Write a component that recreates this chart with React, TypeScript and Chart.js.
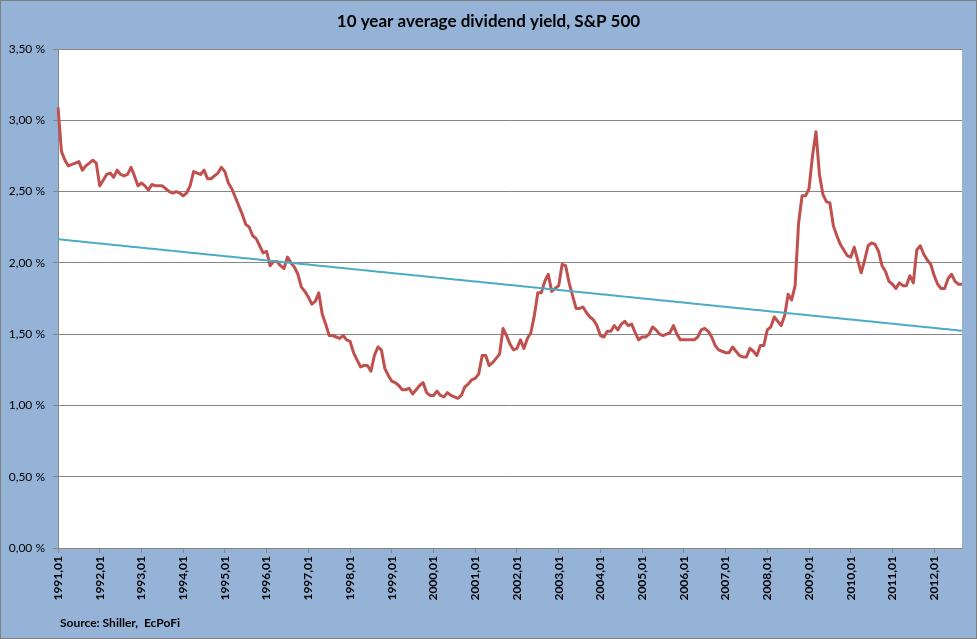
import { useEffect, useRef } from "react";
import { Chart, registerables } from "chart.js";

Chart.register(...registerables);

const START_YEAR = 1991;

// 10 year average dividend yield, S&P 500 (%), monthly
const y1991 = [3.09, 2.78, 2.72, 2.68, 2.69, 2.7, 2.71, 2.65, 2.68, 2.7, 2.72, 2.7];
const y1992 = [2.54, 2.58, 2.62, 2.63, 2.6, 2.65, 2.62, 2.61, 2.62, 2.67, 2.61, 2.54];
const y1993 = [2.56, 2.54, 2.51, 2.55, 2.54, 2.54, 2.54, 2.52, 2.5, 2.49, 2.5, 2.49];
const y1994 = [2.47, 2.49, 2.54, 2.64, 2.63, 2.62, 2.65, 2.59, 2.59, 2.61, 2.63, 2.67];
const y1995 = [2.64, 2.56, 2.52, 2.46, 2.4, 2.34, 2.27, 2.25, 2.19, 2.17, 2.12, 2.07];
const y1996 = [2.08, 1.98, 2.01, 2.01, 1.98, 1.96, 2.04, 2.0, 1.97, 1.92, 1.83, 1.8];
const y1997 = [1.76, 1.71, 1.73, 1.79, 1.64, 1.57, 1.49, 1.49, 1.48, 1.47, 1.49, 1.46];
const y1998 = [1.45, 1.37, 1.32, 1.27, 1.28, 1.28, 1.24, 1.35, 1.41, 1.39, 1.26, 1.21];
const y1999 = [1.17, 1.16, 1.14, 1.11, 1.11, 1.12, 1.08, 1.11, 1.14, 1.16, 1.09, 1.07];
const y2000 = [1.07, 1.1, 1.07, 1.06, 1.09, 1.07, 1.06, 1.05, 1.07, 1.13, 1.15, 1.18];
const y2001 = [1.19, 1.22, 1.35, 1.35, 1.28, 1.3, 1.33, 1.36, 1.54, 1.49, 1.43, 1.39];
const y2002 = [1.4, 1.46, 1.4, 1.47, 1.51, 1.63, 1.79, 1.79, 1.87, 1.92, 1.8, 1.82];
const y2003 = [1.84, 1.99, 1.98, 1.86, 1.77, 1.68, 1.68, 1.69, 1.65, 1.62, 1.6, 1.56];
const y2004 = [1.49, 1.48, 1.52, 1.52, 1.56, 1.53, 1.57, 1.59, 1.56, 1.57, 1.51, 1.46];
const y2005 = [1.48, 1.48, 1.5, 1.55, 1.53, 1.5, 1.49, 1.5, 1.51, 1.56, 1.5, 1.46];
const y2006 = [1.46, 1.46, 1.46, 1.46, 1.48, 1.53, 1.54, 1.52, 1.48, 1.42, 1.39, 1.38];
const y2007 = [1.37, 1.37, 1.41, 1.38, 1.35, 1.34, 1.34, 1.4, 1.38, 1.35, 1.42, 1.42];
const y2008 = [1.53, 1.55, 1.62, 1.59, 1.56, 1.63, 1.78, 1.74, 1.84, 2.28, 2.47, 2.47];
const y2009 = [2.52, 2.75, 2.92, 2.62, 2.48, 2.43, 2.42, 2.26, 2.19, 2.13, 2.09, 2.05];
const y2010 = [2.04, 2.11, 2.02, 1.93, 2.02, 2.12, 2.14, 2.13, 2.08, 1.98, 1.94, 1.87];
const y2011 = [1.85, 1.82, 1.86, 1.84, 1.84, 1.91, 1.86, 2.09, 2.12, 2.06, 2.02, 1.99];
const y2012 = [1.91, 1.85, 1.82, 1.82, 1.89, 1.92, 1.87, 1.85, 1.85];

const dividendYield: number[] = [
  ...y1991, ...y1992, ...y1993, ...y1994, ...y1995, ...y1996, ...y1997, ...y1998,
  ...y1999, ...y2000, ...y2001, ...y2002, ...y2003, ...y2004, ...y2005, ...y2006,
  ...y2007, ...y2008, ...y2009, ...y2010, ...y2011, ...y2012,
];

const monthLabels: string[] = dividendYield.map(
  (_, i) => `${START_YEAR + Math.floor(i / 12)},${String((i % 12) + 1).padStart(2, "0")}`
);

const Y_MIN = 0;
const Y_MAX = 3.5;
const Y_STEP = 0.5;
const LABEL_EVERY = 12;

const TITLE = "10 year average dividend yield, S&P 500";
const SOURCE = "Source: Shiller,  EcPoFi";

// Excel-style linear trendline (least squares on the month index)
function linearTrend(values: number[]): number[] {
  const n = values.length;
  let sx = 0, sy = 0, sxx = 0, sxy = 0;
  values.forEach((v, i) => {
    sx += i; sy += v; sxx += i * i; sxy += i * v;
  });
  const slope = (n * sxy - sx * sy) / (n * sxx - sx * sx);
  const icpt = (sy - slope * sx) / n;
  return values.map((_, i) => icpt + slope * i);
}

const FONT = "Lato, 'Open Sans', sans-serif";
const GRID = "#868686";

export default function App() {
  const ref = useRef<HTMLCanvasElement | null>(null);

  useEffect(() => {
    if (!ref.current) return;
    const textPlugin = {
      id: "texts",
      beforeDraw(chart: any) {
        const { ctx, chartArea } = chart;
        ctx.save();
        ctx.fillStyle = "#ffffff";
        ctx.fillRect(chartArea.left, chartArea.top, chartArea.right - chartArea.left, chartArea.bottom - chartArea.top);
        ctx.restore();
      },
      afterDraw(chart: any) {
        const { ctx, chartArea } = chart;
        ctx.save();
        ctx.fillStyle = "#000000";
        ctx.textBaseline = "middle";
        ctx.font = `bold 17px ${FONT}`;
        ctx.textAlign = "center";
        ctx.fillText(TITLE, chart.width / 2, 21);
        ctx.font = `bold 12px ${FONT}`;
        ctx.textAlign = "left";
        ctx.fillText(SOURCE, chartArea.left + 2, 622);
        ctx.restore();
      },
    };

    const chart = new Chart(ref.current, {
      type: "line",
      data: {
        labels: monthLabels,
        datasets: [
          {
            label: "10 year average dividend yield",
            data: dividendYield,
            borderColor: "#C0504D",
            borderWidth: 3,
            pointRadius: 0,
            tension: 0,
            borderJoinStyle: "round",
            order: 1,
          },
          {
            label: "Linear trend",
            data: linearTrend(dividendYield),
            borderColor: "#4BACC6",
            borderWidth: 2,
            pointRadius: 0,
            order: 0,
          },
        ],
      },
      options: {
        animation: false,
        responsive: false,
        maintainAspectRatio: false,
        layout: { padding: { left: 7, right: 14, top: 48, bottom: 30 } },
        plugins: { legend: { display: false }, tooltip: { enabled: false } },
        scales: {
          x: {
            type: "category",
            offset: false,
            grid: { drawOnChartArea: false, drawTicks: true, tickLength: 5, color: GRID, offset: false },
            border: { color: GRID, width: 1 },
            ticks: {
              autoSkip: false,
              minRotation: 90,
              maxRotation: 90,
              padding: 3,
              color: "#000000",
              font: { family: FONT, size: 12, weight: "bold" },
              callback: (_v: any, i: number) => (i % LABEL_EVERY === 0 ? monthLabels[i] : null),
            },
            afterFit: (s: any) => { s.height = 60; },
          },
          y: {
            min: Y_MIN,
            max: Y_MAX,
            grid: { color: GRID, tickLength: 5 },
            border: { color: GRID, width: 1 },
            ticks: {
              stepSize: Y_STEP,
              padding: 8,
              color: "#000000",
              font: { family: FONT, size: 12 },
              callback: (v: any) => `${Number(v).toFixed(2).replace(".", ",")} %`,
            },
            afterFit: (s: any) => { s.width = 50; },
          },
        },
      },
      plugins: [textPlugin],
    } as any);
    return () => chart.destroy();
  }, []);

  return (
    <div
      style={{
        position: "fixed",
        left: 0,
        top: 0,
        width: 977,
        height: 639,
        boxSizing: "border-box",
        border: "1px solid #7f7f7f",
        background: "#95B3D7",
      }}
    >
      <canvas ref={ref} width={975} height={637} style={{ display: "block", width: 975, height: 637 }} />
    </div>
  );
}
